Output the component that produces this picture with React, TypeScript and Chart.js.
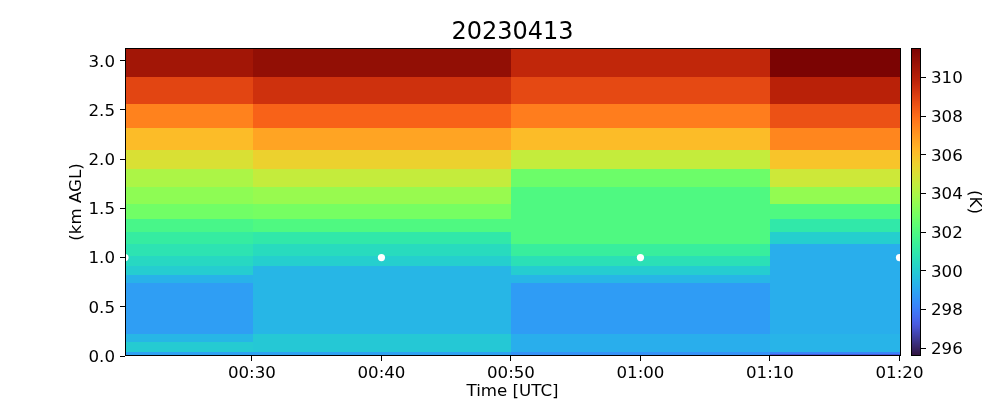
import React, { useEffect, useRef } from "react";
import { Chart, registerables } from "chart.js";

Chart.register(...registerables);

// ---------------- data ----------------
const TITLE = "20230413";
// observation times, minutes after 00:00 UTC
const times = [20.2, 40, 60, 80];
// height grid cell edges (km AGL), bottom to top
const heightEdges = [
  0, 0.018, 0.04, 0.145, 0.228, 0.739, 0.821, 0.912, 1.017, 1.136, 1.261,
  1.39, 1.546, 1.719, 1.902, 2.092, 2.319, 2.563, 2.83, 3.129,
];
// temperature (K) per height cell, bottom to top, one array per time
const temp0020 = [
  298.9, 298.9, 300.0, 299.4, 298.8, 299.3, 300.05, 300.4, 300.8, 301.2,
  301.8, 302.8, 303.4, 304.0, 305.0, 306.1, 307.5, 308.9, 310.5,
];
const temp0040 = [
  298.9, 298.9, 299.9, 299.9, 299.4, 299.4, 299.4, 300.1, 300.5, 301.0,
  302.0, 302.9, 303.6, 304.5, 305.5, 306.7, 308.2, 309.4, 310.9,
];
const temp0100 = [
  298.5, 298.5, 299.2, 299.2, 298.75, 299.4, 300.05, 300.7, 301.3, 302.0,
  302.0, 302.0, 302.0, 302.7, 304.5, 306.1, 307.6, 308.8, 309.7,
];
const temp0120 = [
  297.2, 298.2, 299.35, 299.35, 299.2, 299.2, 299.2, 299.2, 299.2, 300.1,
  301.0, 302.0, 303.5, 304.7, 305.9, 307.4, 308.6, 309.9, 311.5,
];
const markerHeights = [1.0, 1.0, 1.0, 1.0];
const xTicks = [30, 40, 50, 60, 70, 80];
const yTicks = [0, 0.5, 1.0, 1.5, 2.0, 2.5, 3.0];
const cbTicks = [296, 298, 300, 302, 304, 306, 308, 310];
const X_MIN = 20.2;
const X_MAX = 80.04;
const Y_MIN = 0;
const Y_MAX = 3.129;
const T_MIN = 295.6;
const T_MAX = 311.52;

// ---------------- colormap ----------------
const FONT = "'DejaVu Sans', 'Liberation Sans', sans-serif";
const FS = 16.67;

function turboPoly(x: number): number[] {
  const r =
    0.13572138 +
    x * (4.6153926 + x * (-42.66032258 + x * (132.13108234 + x * (-152.94239396 + x * 59.28637943))));
  const g =
    0.09140261 +
    x * (2.19418839 + x * (4.84296658 + x * (-14.18503333 + x * (4.27729857 + x * 2.82956604))));
  const b =
    0.1066733 +
    x * (12.64194608 + x * (-60.58204836 + x * (110.36276771 + x * (-89.90310912 + x * 27.34824973))));
  return [r * 255, g * 255, b * 255];
}
const TURBO_LOW = [48, 18, 59];
const TURBO_HIGH = [122, 4, 3];
function lerp(a: number[], b: number[], t: number) {
  return a.map((v, i) => v + (b[i] - v) * t);
}
function turbo(x: number): string {
  const v = Math.min(1, Math.max(0, x));
  let c: number[];
  if (v < 0.1) c = lerp(TURBO_LOW, turboPoly(0.1), v / 0.1);
  else if (v > 0.9) c = lerp(turboPoly(0.9), TURBO_HIGH, (v - 0.9) / 0.1);
  else c = turboPoly(v);
  const cl = c.map((q) => Math.round(Math.min(255, Math.max(0, q))));
  return `rgb(${cl[0]},${cl[1]},${cl[2]})`;
}
const norm = (t: number) => (t - T_MIN) / (T_MAX - T_MIN);

function fmtTime(m: number) {
  const h = Math.floor(m / 60);
  const mm = Math.round(m - h * 60);
  return `${String(h).padStart(2, "0")}:${String(mm).padStart(2, "0")}`;
}

// ---------------- plugins ----------------
const heatmapPlugin = {
  id: "heatmap",
  beforeDatasetsDraw(chart: any) {
    const { ctx, chartArea: a, scales } = chart;
    const xs = scales.x;
    const ys = scales.y;
    const columns = [temp0020, temp0040, temp0100, temp0120];
    const n = times.length;
    const xe: number[] = [times[0] - (times[1] - times[0]) / 2];
    for (let i = 0; i < n - 1; i++) xe.push((times[i] + times[i + 1]) / 2);
    xe.push(times[n - 1] + (times[n - 1] - times[n - 2]) / 2);
    ctx.save();
    ctx.beginPath();
    ctx.rect(a.left, a.top, a.right - a.left, a.bottom - a.top);
    ctx.clip();
    columns.forEach((col, j) => {
      const x0 = Math.round(xs.getPixelForValue(xe[j]));
      const x1 = Math.round(xs.getPixelForValue(xe[j + 1]));
      col.forEach((v, i) => {
        const y0 = Math.round(ys.getPixelForValue(heightEdges[i]));
        const y1 = Math.round(ys.getPixelForValue(heightEdges[i + 1]));
        ctx.fillStyle = turbo(norm(v));
        ctx.fillRect(x0, y1, x1 - x0, y0 - y1);
      });
    });
    ctx.restore();
  },
  afterDraw(chart: any) {
    const { ctx, chartArea: a } = chart;
    ctx.save();
    ctx.strokeStyle = "#000";
    ctx.lineWidth = 1;
    ctx.strokeRect(a.left + 0.5, a.top + 0.5, a.right - a.left, a.bottom - a.top - 1);
    ctx.restore();
  },
};

const colorbarPlugin = {
  id: "colorbar",
  afterDraw(chart: any) {
    const { ctx, chartArea: a, scales } = chart;
    const ys = scales.y;
    ctx.save();
    for (let py = Math.floor(a.top); py < Math.ceil(a.bottom); py++) {
      const v = ys.getValueForPixel(py + 0.5);
      ctx.fillStyle = turbo(norm(v));
      ctx.fillRect(a.left, py, a.right - a.left, 1);
    }
    ctx.strokeStyle = "#000";
    ctx.lineWidth = 1;
    ctx.strokeRect(a.left + 0.5, a.top + 0.5, a.right - a.left - 1, a.bottom - a.top - 1);
    ctx.restore();
  },
};

export default function App() {
  const mainRef = useRef<HTMLCanvasElement | null>(null);
  const cbRef = useRef<HTMLCanvasElement | null>(null);

  useEffect(() => {
    document.body.style.margin = "0";
    Chart.defaults.font.family = FONT;
    Chart.defaults.color = "#000";
    const tickFont = { family: FONT, size: FS };
    const main = new Chart(mainRef.current as HTMLCanvasElement, {
      type: "scatter",
      data: {
        datasets: [
          {
            data: times.map((t, i) => ({ x: t, y: markerHeights[i] })),
            pointRadius: 3.6,
            pointHoverRadius: 3.6,
            backgroundColor: "#ffffff",
            borderWidth: 0,
            clip: 0,
          } as any,
        ],
      },
      options: {
        animation: false,
        responsive: false,
        devicePixelRatio: 1,
        events: [],
        layout: { padding: { left: 0, right: 100, top: 0, bottom: 0 } },
        plugins: {
          legend: { display: false },
          tooltip: { enabled: false },
          title: {
            display: true,
            text: TITLE,
            fullSize: false,
            color: "#000",
            font: { family: FONT, size: 24, weight: "normal", lineHeight: 1 },
            padding: { top: 21, bottom: 3 },
          },
        },
        scales: {
          x: {
            type: "linear",
            min: X_MIN,
            max: X_MAX,
            afterBuildTicks: (s: any) => {
              s.ticks = xTicks.map((v) => ({ value: v }));
            },
            afterFit: (s: any) => {
              s.height = 44;
              s.paddingLeft = 0;
              s.paddingRight = 0;
            },
            ticks: {
              autoSkip: false,
              maxRotation: 0,
              padding: 3,
              color: "#000",
              font: tickFont,
              callback: (v: any) => fmtTime(Number(v)),
            },
            grid: { drawOnChartArea: false, drawTicks: true, tickLength: 5, tickColor: "#000" },
            border: { display: false },
            title: {
              display: true,
              text: "Time [UTC]",
              color: "#000",
              font: { family: FONT, size: FS, lineHeight: 1 },
              padding: { top: 0, bottom: 0.5 },
            },
          },
          y: {
            type: "linear",
            min: Y_MIN,
            max: Y_MAX,
            afterBuildTicks: (s: any) => {
              s.ticks = yTicks.map((v) => ({ value: v }));
            },
            afterFit: (s: any) => {
              s.width = 125;
              s.paddingTop = 0;
              s.paddingBottom = 0;
            },
            ticks: {
              autoSkip: false,
              padding: 5,
              labelOffset: 1.5,
              color: "#000",
              font: tickFont,
              callback: (v: any) => Number(v).toFixed(1),
            },
            grid: { drawOnChartArea: false, drawTicks: true, tickLength: 5, tickColor: "#000" },
            border: { display: false },
            title: {
              display: true,
              text: "(km AGL)",
              color: "#000",
              font: { family: FONT, size: FS, lineHeight: 1 },
              padding: { top: 68.5, bottom: 0 },
            },
          },
        },
      } as any,
      plugins: [heatmapPlugin],
    });

    const cb = new Chart(cbRef.current as HTMLCanvasElement, {
      type: "scatter",
      data: { datasets: [] },
      options: {
        animation: false,
        responsive: false,
        devicePixelRatio: 1,
        events: [],
        layout: { padding: { left: 11, right: 0, top: 48, bottom: 44 } },
        plugins: { legend: { display: false }, tooltip: { enabled: false } },
        scales: {
          x: { type: "linear", display: false, min: 0, max: 1 },
          y: {
            type: "linear",
            position: "right",
            min: T_MIN,
            max: T_MAX,
            afterBuildTicks: (s: any) => {
              s.ticks = cbTicks.map((v) => ({ value: v }));
            },
            afterFit: (s: any) => {
              s.width = 79;
              s.paddingTop = 0;
              s.paddingBottom = 0;
            },
            ticks: {
              autoSkip: false,
              padding: 5,
              labelOffset: 1.5,
              color: "#000",
              font: tickFont,
              callback: (v: any) => String(v),
            },
            grid: { drawOnChartArea: false, drawTicks: true, tickLength: 5, tickColor: "#000" },
            border: { display: false },
            title: {
              display: true,
              text: "(K)",
              color: "#000",
              font: { family: FONT, size: FS, lineHeight: 1 },
              padding: { top: 17.7, bottom: 0 },
            },
          },
        },
      } as any,
      plugins: [colorbarPlugin],
    });

    return () => {
      main.destroy();
      cb.destroy();
    };
  }, []);

  return (
    <div style={{ position: "absolute", left: 0, top: 0, width: 1000, height: 400, background: "#fff" }}>
      <canvas
        ref={mainRef}
        width={1000}
        height={400}
        style={{ position: "absolute", left: 0, top: 0, width: 1000, height: 400 }}
      />
      <canvas
        ref={cbRef}
        width={100}
        height={400}
        style={{ position: "absolute", left: 900, top: 0, width: 100, height: 400 }}
      />
    </div>
  );
}
